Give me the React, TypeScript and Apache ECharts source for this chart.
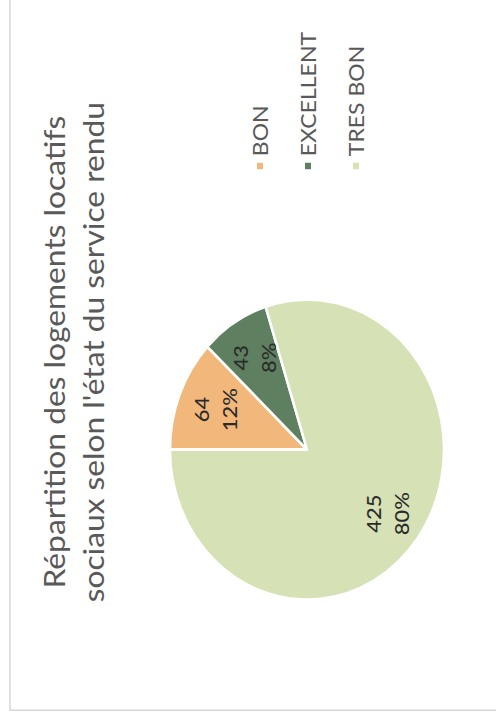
import React, { useEffect, useRef } from "react";
import * as echarts from "echarts";

const categories = ["BON", "EXCELLENT", "TRES BON"];
const values = [64, 43, 425];
const colors = ["#F2B87B", "#5E8060", "#D6E1B6"];
const titleLines = [
  "Répartition des logements locatifs",
  "sociaux selon l'état du service rendu",
];

const PAGE_W = 496;
const PAGE_H = 719;
const STRETCH = 1.095;
const CW = Math.round(PAGE_H / STRETCH);
const CH = PAGE_W;

export default function App() {
  const ref = useRef<HTMLDivElement>(null);

  useEffect(() => {
    if (!ref.current) return;
    const chart = echarts.init(ref.current, undefined, {
      renderer: "svg",
      width: CW,
      height: CH,
    });
    const data = categories.map((name, i) => ({
      name,
      value: values[i],
      itemStyle: { color: colors[i] },
    }));
    chart.setOption({
      animation: false,
      backgroundColor: "#ffffff",
      title: {
        text: titleLines.join("\n"),
        left: 335,
        top: 34,
        padding: 0,
        textAlign: "center",
        textVerticalAlign: "top",
        textStyle: {
          fontFamily: "Lato",
          fontSize: 29,
          fontWeight: "normal",
          color: "#595959",
          lineHeight: 39,
        },
      },
      legend: {
        orient: "vertical",
        left: 500,
        top: 248,
        padding: 0,
        itemWidth: 8,
        itemHeight: 8,
        itemGap: 24,
        icon: "rect",
        data: categories.map((name, i) => ({
          name,
          itemStyle: { color: colors[i] },
        })),
        textStyle: {
          fontFamily: "Lato",
          fontSize: 21,
          color: "#595959",
          lineHeight: 24,
        },
      },
      graphic: [
        {
          type: "rect",
          shape: { x: 8, y: 10, width: 720, height: 520 },
          style: { fill: "none", stroke: "#d6d6d6", lineWidth: 1.5 },
          silent: true,
          z: -1,
        },
      ],
      series: [
        {
          type: "pie",
          center: [246, 307],
          radius: 137,
          startAngle: 90,
          clockwise: true,
          percentPrecision: 0,
          label: { show: false },
          labelLine: { show: false },
          itemStyle: { borderColor: "#ffffff", borderWidth: 2.5 },
          data,
        },
        {
          type: "pie",
          center: [246, 307],
          radius: [55, 137],
          startAngle: 90,
          clockwise: true,
          percentPrecision: 0,
          silent: true,
          itemStyle: { color: "rgba(0,0,0,0)", borderWidth: 0 },
          labelLine: { show: false },
          label: {
            show: true,
            position: "inside",
            formatter: "{c}\n{d}%",
            fontFamily: "Lato",
            fontSize: 20,
            fontWeight: 500,
            lineHeight: 28,
            color: "#2b2b2b",
          },
          data: categories.map((name, i) => ({ name, value: values[i] })),
        },
      ],
    });
    return () => chart.dispose();
  }, []);

  return (
    <div
      style={{
        position: "fixed",
        left: 0,
        top: 0,
        width: PAGE_W,
        height: PAGE_H,
        background: "#ffffff",
        overflow: "hidden",
      }}
    >
      <div
        ref={ref}
        style={{
          position: "absolute",
          left: 0,
          top: 0,
          width: CW,
          height: CH,
          transformOrigin: "0 0",
          transform: `translate(0px, ${PAGE_H}px) rotate(-90deg) scale(${STRETCH}, 1)`,
        }}
      />
    </div>
  );
}
